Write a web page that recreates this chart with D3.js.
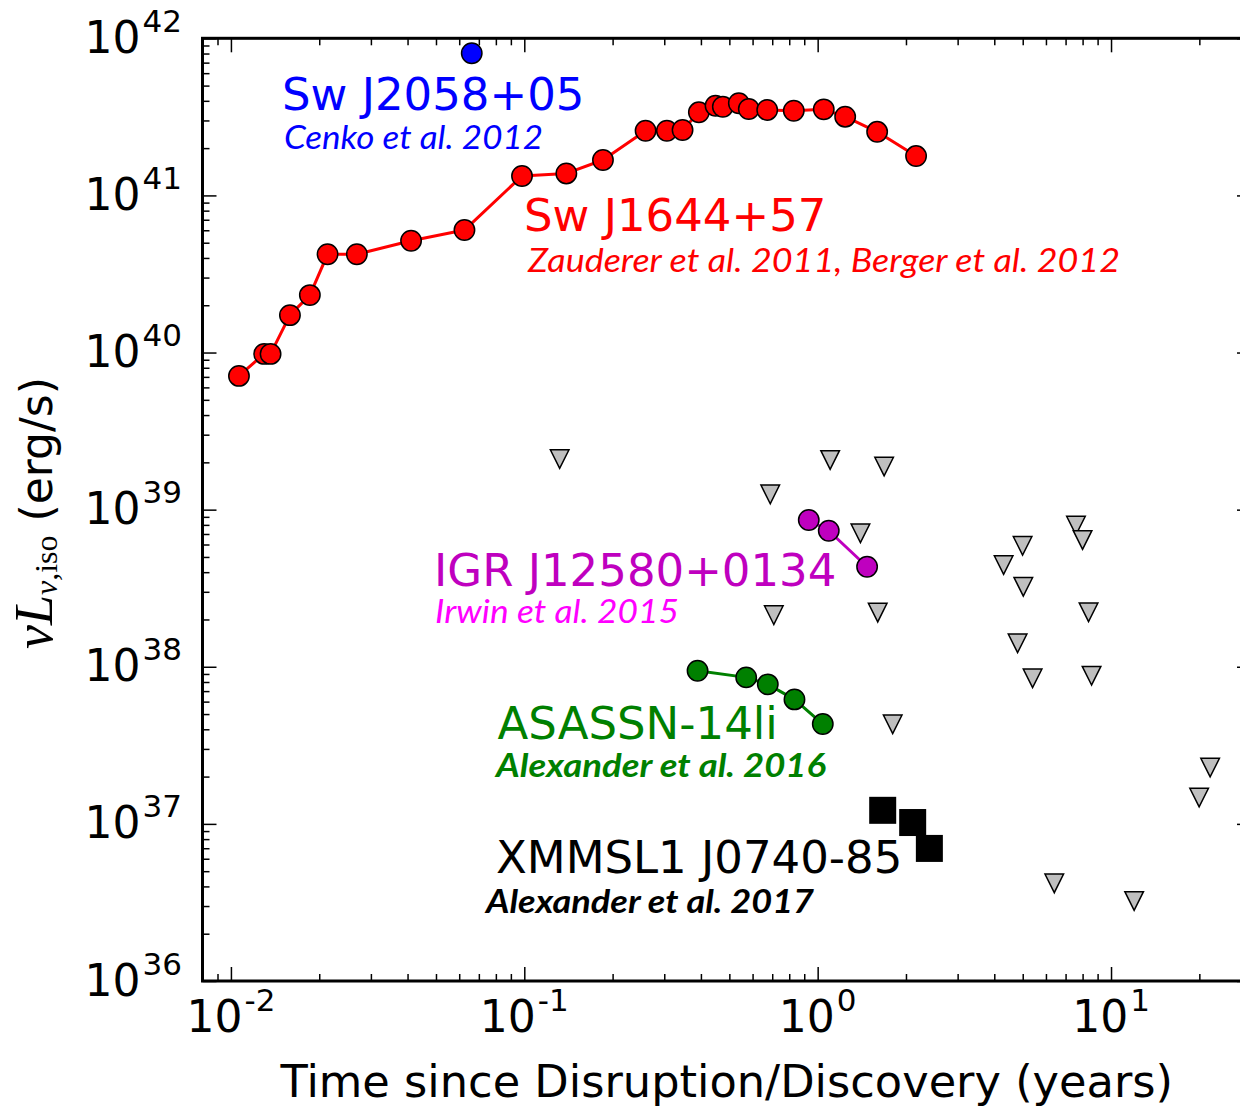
<!DOCTYPE html>
<html>
<head>
<meta charset="utf-8">
<script src="https://cdn.jsdelivr.net/npm/d3@7"></script>
<style>
  html, body { margin: 0; padding: 0; background: #fff; }
  svg { display: block; }
</style>
</head>
<body>
<svg id="chart" width="1240" height="1108"></svg>
<script>
// ---------------- data (time in years, luminosity in erg/s) ----------------
const j1644T = [0.01065, 0.01298, 0.01365, 0.01589, 0.01858, 0.02135, 0.02687, 0.04112, 0.06252, 0.09822,
                0.1391, 0.1854, 0.2591, 0.3062, 0.3463, 0.3936, 0.4486, 0.4751, 0.5386, 0.5824,
                0.673, 0.829, 1.049, 1.241, 1.595, 2.165];
const j1644L = [7.1e39, 9.8e39, 9.8e39, 1.73e40, 2.32e40, 4.22e40, 4.22e40, 5.15e40, 6.02e40, 1.33e41,
                1.38e41, 1.68e41, 2.58e41, 2.58e41, 2.61e41, 3.38e41, 3.72e41, 3.67e41, 3.86e41, 3.55e41,
                3.50e41, 3.46e41, 3.53e41, 3.17e41, 2.54e41, 1.78e41];
const j2058T = [0.0662];
const j2058L = [8.03e41];
const igrT = [0.9326, 1.091, 1.474];
const igrL = [8.59e38, 7.34e38, 4.33e38];
const asassnT = [0.3896, 0.5707, 0.6761, 0.8336, 1.041];
const asassnL = [9.43e37, 8.56e37, 7.73e37, 6.20e37, 4.32e37];
const xmmslT = [1.666, 2.108, 2.403];
const xmmslL = [1.22e37, 1.02e37, 6.98e36];
const limitT = [0.1320, 1.103, 1.685, 0.6892, 1.399, 0.7087, 1.602, 1.802, 7.594, 7.998, 4.995,
                4.304, 5.023, 8.383, 4.803, 5.403, 8.583, 21.77, 19.97, 6.405, 11.99];
const limitL = [2.10e39, 2.07e39, 1.88e39, 1.25e39, 7.07e38, 2.13e38, 2.21e38, 4.30e37, 7.92e38, 6.41e38, 5.89e38,
                4.44e38, 3.23e38, 2.22e38, 1.41e38, 8.44e37, 8.77e37, 2.28e37, 1.47e37, 4.18e36, 3.23e36];

const xTickValues = [0.01, 0.1, 1, 10];
const xTickExponents = ["-2", "-1", "0", "1"];
const yTickValues = [1e36, 1e37, 1e38, 1e39, 1e40, 1e41, 1e42];
const yTickExponents = ["36", "37", "38", "39", "40", "41", "42"];

const sourceNames = ["Sw J2058+05", "Sw J1644+57", "IGR J12580+0134", "ASASSN-14li", "XMMSL1 J0740-85"];
const sourceRefs = ["Cenko et al. 2012", "Zauderer et al. 2011, Berger et al. 2012", "Irwin et al. 2015",
                    "Alexander et al. 2016", "Alexander et al. 2017"];

// ---------------- layout ----------------
const L = 202.5, R = 1251, T = 38.3, B = 981;
const svg = d3.select("#chart");
svg.append("rect").attr("width", 1240).attr("height", 1108).attr("fill", "#fff");

const x = d3.scaleLog().domain([0.008, 30]).range([L, R]);
const y = d3.scaleLog().domain([1e36, 1e42]).range([B, T]);

const sans = "'DejaVu Sans', sans-serif";
const cite = "Lato, 'Open Sans', sans-serif";

// minor tick values
const xMinor = [];
[0.001, 0.01, 0.1, 1, 10].forEach(d => { for (let k = 2; k <= 9; k++) { const v = d * k; if (v >= 0.008 && v <= 30) xMinor.push(v); } });
const yMinor = [];
[1e36, 1e37, 1e38, 1e39, 1e40, 1e41].forEach(d => { for (let k = 2; k <= 9; k++) yMinor.push(d * k); });

function styleAxis(g) {
  g.select(".domain").remove();
  g.selectAll(".tick line").attr("stroke", "#000").attr("stroke-width", 1.5);
  g.selectAll(".tick text").remove();
}
// bottom / top
svg.append("g").attr("transform", `translate(0,${B})`)
  .call(d3.axisBottom(x).tickValues(xTickValues).tickSize(-14).tickFormat(() => "")).call(styleAxis);
svg.append("g").attr("transform", `translate(0,${B})`)
  .call(d3.axisBottom(x).tickValues(xMinor).tickSize(-7).tickFormat(() => "")).call(styleAxis);
svg.append("g").attr("transform", `translate(0,${T})`)
  .call(d3.axisTop(x).tickValues(xTickValues).tickSize(-14).tickFormat(() => "")).call(styleAxis);
svg.append("g").attr("transform", `translate(0,${T})`)
  .call(d3.axisTop(x).tickValues(xMinor).tickSize(-7).tickFormat(() => "")).call(styleAxis);
// left / right
svg.append("g").attr("transform", `translate(${L},0)`)
  .call(d3.axisLeft(y).tickValues(yTickValues).tickSize(-14).tickFormat(() => "")).call(styleAxis);
svg.append("g").attr("transform", `translate(${L},0)`)
  .call(d3.axisLeft(y).tickValues(yMinor).tickSize(-7).tickFormat(() => "")).call(styleAxis);
svg.append("g").attr("transform", `translate(${R},0)`)
  .call(d3.axisRight(y).tickValues(yTickValues).tickSize(-14).tickFormat(() => "")).call(styleAxis);
svg.append("g").attr("transform", `translate(${R},0)`)
  .call(d3.axisRight(y).tickValues(yMinor).tickSize(-7).tickFormat(() => "")).call(styleAxis);

// spines
svg.append("rect").attr("x", L).attr("y", T).attr("width", R - L).attr("height", B - T)
  .attr("fill", "none").attr("stroke", "#000").attr("stroke-width", 3);

// tick labels
function powLabel(sel, exp) {
  sel.append("tspan").text("10");
  sel.append("tspan").attr("dx", 2).attr("dy", -21).attr("font-size", 31).text(exp);
}
xTickValues.forEach((v, i) => {
  const t = svg.append("text").attr("x", x(v)).attr("y", 1032).attr("text-anchor", "middle")
    .attr("font-family", sans).attr("font-size", 44).attr("fill", "#000");
  powLabel(t, xTickExponents[i]);
});
yTickValues.forEach((v, i) => {
  const t = svg.append("text").attr("x", 182).attr("y", y(v) + 14.5).attr("text-anchor", "end")
    .attr("font-family", sans).attr("font-size", 44).attr("fill", "#000");
  powLabel(t, yTickExponents[i]);
});

// axis labels
svg.append("text").attr("x", (L + R) / 2).attr("y", 1097).attr("text-anchor", "middle")
  .attr("font-family", sans).attr("font-size", 44.7).attr("fill", "#000")
  .text("Time since Disruption/Discovery (years)");

const yl = svg.append("text").attr("transform", "translate(52,513) rotate(-90)")
  .attr("text-anchor", "middle").attr("fill", "#000");
yl.append("tspan").attr("font-family", "'Liberation Serif', serif").attr("font-style", "italic")
  .attr("font-size", 54).text("\u03BDL");
yl.append("tspan").attr("font-family", "'Liberation Serif', serif").attr("font-style", "italic")
  .attr("font-size", 32).attr("dy", 5).text("\u03BD,");
yl.append("tspan").attr("font-family", "'Liberation Serif', serif")
  .attr("font-size", 32).text("iso");
yl.append("tspan").attr("font-family", sans).attr("font-size", 44).attr("dy", -5).text("\u00A0(erg/s)");

// ---------------- marks ----------------
const line = d3.line().x(d => x(d[0])).y(d => y(d[1]));
function zipTL(t, l) { return t.map((v, i) => [v, l[i]]); }

function connected(tArr, lArr, color) {
  const pts = zipTL(tArr, lArr);
  svg.append("path").datum(pts).attr("d", line).attr("fill", "none")
    .attr("stroke", color).attr("stroke-width", 3).attr("stroke-linejoin", "round");
  svg.append("g").selectAll("circle").data(pts).join("circle")
    .attr("cx", d => x(d[0])).attr("cy", d => y(d[1])).attr("r", 10.2)
    .attr("fill", color).attr("stroke", "#000").attr("stroke-width", 1.5);
}

// upper limits (grey down-triangles)
const tri = 9.3;
svg.append("g").selectAll("path").data(zipTL(limitT, limitL)).join("path")
  .attr("d", d => {
    const cx = x(d[0]), cy = y(d[1]);
    return `M${cx},${cy + tri}L${cx - tri},${cy - tri}L${cx + tri},${cy - tri}Z`;
  })
  .attr("fill", "#bfbfbf").attr("stroke", "#000").attr("stroke-width", 1.5).attr("stroke-linejoin", "miter");

connected(j1644T, j1644L, "#ff0000");
connected(igrT, igrL, "#bf00bf");
connected(asassnT, asassnL, "#008000");
connected(j2058T, j2058L, "#0000ff");

// XMMSL1 squares
const sq = 13.5;
svg.append("g").selectAll("rect").data(zipTL(xmmslT, xmmslL)).join("rect")
  .attr("x", d => x(d[0]) - sq).attr("y", d => y(d[1]) - sq)
  .attr("width", 2 * sq).attr("height", 2 * sq).attr("fill", "#000");

// ---------------- annotations ----------------
const nameLayout = [
  { x: 282, y: 110, color: "#0000ff" },
  { x: 524, y: 231, color: "#ff0000" },
  { x: 434, y: 586, color: "#bf00bf" },
  { x: 497.5, y: 739, color: "#008000" },
  { x: 496, y: 873, color: "#000000" }
];
sourceNames.forEach((s, i) => {
  const p = nameLayout[i];
  svg.append("text").attr("x", p.x).attr("y", p.y).attr("font-family", sans).attr("font-size", 45)
    .attr("fill", p.color).text(s);
});
const refLayout = [
  { x: 284, y: 149, w: 259, color: "#0000ff", bold: false },
  { x: 528, y: 272, w: 592, color: "#ff0000", bold: false },
  { x: 435, y: 623, w: 244, color: "#ff00ff", bold: false },
  { x: 496, y: 777, w: 330, color: "#008000", bold: true },
  { x: 486, y: 913, w: 328, color: "#000000", bold: true }
];
sourceRefs.forEach((s, i) => {
  const p = refLayout[i];
  svg.append("text").attr("x", p.x).attr("y", p.y).attr("font-family", cite).attr("font-size", 32)
    .attr("font-style", "italic").attr("font-weight", p.bold ? "bold" : "normal")
    .attr("textLength", p.w).attr("lengthAdjust", "spacingAndGlyphs")
    .attr("fill", p.color).text(s);
});
</script>
</body>
</html>
